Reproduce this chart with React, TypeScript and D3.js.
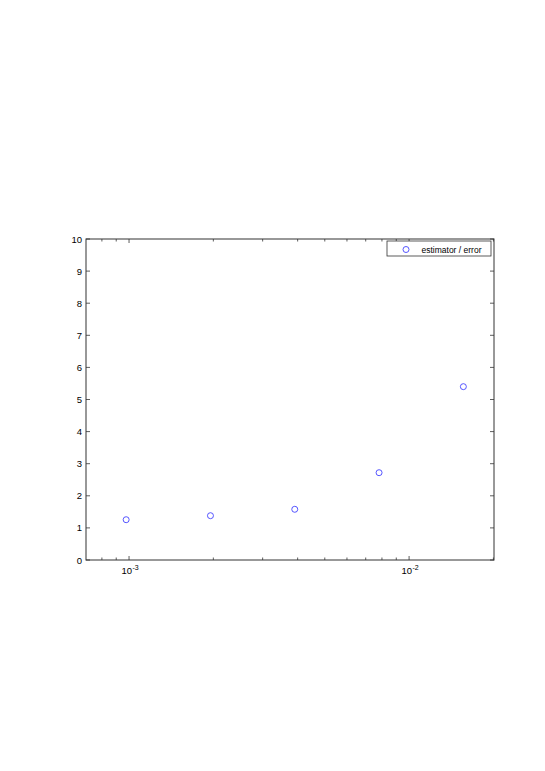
import React from "react";
import * as d3 from "d3";

const xValues = [1 / 1024, 1 / 512, 1 / 256, 1 / 128, 1 / 64];
const ratioValues = [1.255, 1.38, 1.58, 2.72, 5.4];
const yTicks = [0, 1, 2, 3, 4, 5, 6, 7, 8, 9, 10];
const xMajorTicks = [1e-3, 1e-2];
const xMajorExponents = ["-3", "-2"];
const xMinorTicks = [8e-4, 9e-4, 2e-3, 3e-3, 4e-3, 5e-3, 6e-3, 7e-3, 8e-3, 9e-3, 2e-2];
const legendLabel = "estimator / error";

export default function App() {
  const W = 545, H = 771;
  const L = 86, R = 494, T = 239, B = 560;
  const x = d3.scaleLog().domain([7.02e-4, 0.0201]).range([L, R]);
  const y = d3.scaleLinear().domain([0, 10]).range([B, T]);
  const font = "Liberation Sans, Arial, Helvetica, sans-serif";
  const axisColor = "#333";
  return (
    <svg width={W} height={H} style={{ position: "absolute", left: 0, top: 0, background: "#fff" }}>
      <rect x={0} y={0} width={W} height={H} fill="#fff" />
      {yTicks.map((t) => (
        <g key={"y" + t}>
          <line x1={L} x2={L + 4} y1={y(t)} y2={y(t)} stroke={axisColor} strokeWidth={0.8} />
          <line x1={R} x2={R - 4} y1={y(t)} y2={y(t)} stroke={axisColor} strokeWidth={0.8} />
          <text x={L - 4} y={y(t) + 3.5} fontSize={9.5} fontFamily={font} textAnchor="end" fill="#000">{t}</text>
        </g>
      ))}
      {xMajorTicks.map((t, i) => (
        <g key={"xm" + t}>
          <line x1={x(t)} x2={x(t)} y1={B} y2={B - 4} stroke={axisColor} strokeWidth={0.8} />
          <line x1={x(t)} x2={x(t)} y1={T} y2={T + 4} stroke={axisColor} strokeWidth={0.8} />
          <text x={x(t) + 1} y={B + 14} fontSize={9.5} fontFamily={font} textAnchor="middle" fill="#000">
            10
            <tspan dx={0.5} dy={-4} fontSize={7}>{xMajorExponents[i]}</tspan>
          </text>
        </g>
      ))}
      {xMinorTicks.map((t) => (
        <g key={"xn" + t}>
          <line x1={x(t)} x2={x(t)} y1={B} y2={B - 2.5} stroke={axisColor} strokeWidth={0.8} />
          <line x1={x(t)} x2={x(t)} y1={T} y2={T + 2.5} stroke={axisColor} strokeWidth={0.8} />
        </g>
      ))}
      <rect x={L} y={T} width={R - L} height={B - T} fill="none" stroke={axisColor} strokeWidth={1} />
      {xValues.map((v, i) => (
        <circle key={"p" + i} cx={x(v)} cy={y(ratioValues[i])} r={3} fill="none" stroke="#4444ff" strokeWidth={0.9} />
      ))}
      <g>
        <rect x={387} y={241} width={104} height={15} fill="#fff" stroke={axisColor} strokeWidth={0.8} />
        <circle cx={406} cy={249.5} r={3} fill="none" stroke="#4444ff" strokeWidth={0.9} />
        <text x={421.5} y={252.5} fontSize={8.5} fontFamily={font} fill="#000">{legendLabel}</text>
      </g>
    </svg>
  );
}
